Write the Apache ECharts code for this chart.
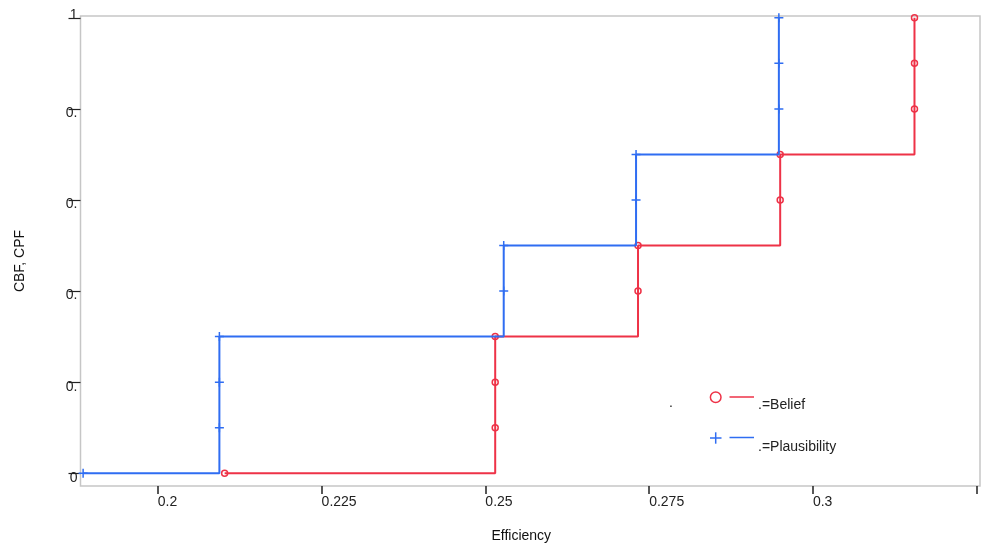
<!DOCTYPE html>
<html>
<head>
<meta charset="utf-8">
<script src="https://cdn.jsdelivr.net/npm/echarts@6/dist/echarts.min.js"></script>
<style>html,body{margin:0;padding:0;background:#fff}#c{width:981px;height:544px}</style>
</head>
<body>
<div id="c"></div>
<script>
// Belief (CBF) points: x = efficiency, y = cumulative value
var beliefX = [0.2102, 0.2515, 0.2515, 0.2515, 0.2733, 0.2733, 0.2950, 0.2950, 0.3155, 0.3155, 0.3155];
var beliefY = [0, 0.1, 0.2, 0.3, 0.4, 0.5, 0.6, 0.7, 0.8, 0.9, 1.0];
// Plausibility (CPF) points
var plausX = [0.1886, 0.2094, 0.2094, 0.2094, 0.2528, 0.2528, 0.2730, 0.2730, 0.2948, 0.2948, 0.2948];
var plausY = [0, 0.1, 0.2, 0.3, 0.4, 0.5, 0.6, 0.7, 0.8, 0.9, 1.0];
// axis ticks and labels
var xTickValues = [0.2, 0.225, 0.25, 0.275, 0.3, 0.325];
var xLabelValues = [0.2, 0.225, 0.25, 0.275, 0.3];
var xLabels = ['0.2', '0.225', '0.25', '0.275', '0.3'];
var yTickValues = [0, 0.2, 0.4, 0.6, 0.8, 1];
var yLabels = ['0', '0.', '0.', '0.', '0.', '1'];
var seriesNames = ['.=Belief', '.=Plausibility'];

var RED = '#ee3247', BLUE = '#2f6df2';
var FONT = 'Liberation Sans, Arial, sans-serif';

function zip(xs, ys) { return xs.map(function (x, i) { return [x, ys[i]]; }); }

var chart = echarts.init(document.getElementById('c'));
chart.setOption({
  animation: false,
  textStyle: { fontFamily: FONT },
  grid: { left: 80.5, right: 1, top: 16, bottom: 58, show: true, borderColor: '#c6c6c6', borderWidth: 1.5, containLabel: false, outerBoundsMode: 'none' },
  xAxis: {
    type: 'value', min: 0.1882, max: 0.3255,
    name: 'Efficiency', nameLocation: 'middle', nameGap: 43,
    nameTextStyle: { fontSize: 14, color: '#111', padding: [0, 18, 0, 0] },
    axisLine: { show: false, onZero: false },
    axisTick: { show: true, length: 8, customValues: xTickValues, lineStyle: { color: '#222', width: 1.5 } },
    axisLabel: {
      customValues: xLabelValues, align: 'left', margin: 9, fontSize: 14, color: '#222',
      formatter: function (v) { var i = xLabelValues.findIndex(function (t) { return Math.abs(t - v) < 1e-9; }); return i >= 0 ? xLabels[i] : ''; }
    },
    splitLine: { show: false }
  },
  yAxis: {
    type: 'value', min: -0.028, max: 1.004,
    name: 'CBF, CPF', nameLocation: 'middle', nameGap: 53, nameRotate: 90,
    nameTextStyle: { fontSize: 14, color: '#111', padding: [0, 20, 0, 0] },
    axisLine: { show: false, onZero: false },
    axisTick: { show: true, length: 12, customValues: yTickValues, lineStyle: { color: '#222', width: 1.2 } },
    axisLabel: {
      customValues: yTickValues, margin: 3, fontSize: 14, color: '#222', verticalAlign: 'middle',
      formatter: function (v) {
        var i = yTickValues.findIndex(function (t) { return Math.abs(t - v) < 1e-9; });
        if (i < 0) return '';
        return (v === 1 ? '{t|' : '{n|') + yLabels[i] + '}';
      },
      rich: {
        n: { fontSize: 14, color: '#222', padding: [9, 0, 0, 0] },
        t: { fontSize: 14, color: '#222', padding: [0, 0, 5, 0] }
      }
    },
    splitLine: { show: false }
  },
  series: [
    {
      name: seriesNames[1], type: 'line', step: 'end', data: zip(plausX, plausY),
      symbol: 'path://M0,-5 L0,5 M-5,0 L5,0', symbolSize: 9,
      lineStyle: { color: BLUE, width: 2 },
      itemStyle: { color: 'rgba(0,0,0,0)', borderColor: BLUE, borderWidth: 1.5 },
      z: 2
    },
    {
      name: seriesNames[0], type: 'line', step: 'end', data: zip(beliefX, beliefY),
      symbol: 'circle', symbolSize: 6,
      lineStyle: { color: RED, width: 2 },
      itemStyle: { color: 'rgba(0,0,0,0)', borderColor: RED, borderWidth: 1.5 },
      z: 1
    }
  ],
  graphic: [
    { type: 'text', left: 669, top: 396, style: { text: '.', font: '14px ' + FONT, fill: '#222' } },
    { type: 'circle', shape: { cx: 715.7, cy: 397.3, r: 5.3 }, style: { fill: 'none', stroke: RED, lineWidth: 1.5 } },
    { type: 'line', shape: { x1: 729.5, y1: 397, x2: 754, y2: 397 }, style: { stroke: RED, lineWidth: 1.5 } },
    { type: 'text', left: 758, top: 398, style: { text: seriesNames[0], font: '14px ' + FONT, fill: '#222' } },
    { type: 'line', shape: { x1: 710, y1: 438, x2: 721.5, y2: 438 }, style: { stroke: BLUE, lineWidth: 1.5 } },
    { type: 'line', shape: { x1: 715.7, y1: 432.3, x2: 715.7, y2: 443.7 }, style: { stroke: BLUE, lineWidth: 1.5 } },
    { type: 'line', shape: { x1: 729.5, y1: 437.5, x2: 754, y2: 437.5 }, style: { stroke: BLUE, lineWidth: 1.5 } },
    { type: 'text', left: 758, top: 440, style: { text: seriesNames[1], font: '14px ' + FONT, fill: '#222' } }
  ]
});
</script>
</body>
</html>
